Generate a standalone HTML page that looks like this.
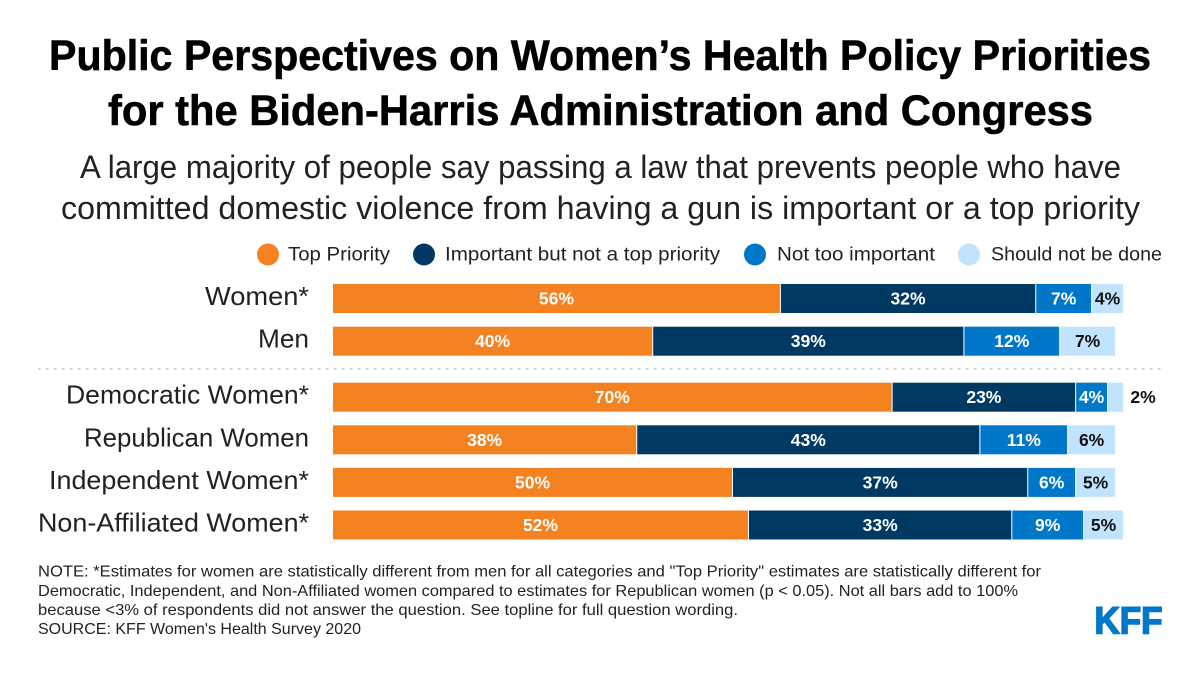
<!DOCTYPE html>
<html lang="en">
<head>
<meta charset="utf-8">
<title>Public Perspectives on Women's Health Policy Priorities</title>
<style>
html,body{margin:0;padding:0;background:#fff;}
svg{display:block;font-family:"Liberation Sans",sans-serif;}
</style>
</head>
<body>
<svg id="chart" width="1200" height="673" viewBox="0 0 1200 673" xmlns="http://www.w3.org/2000/svg">
  <rect width="1200" height="673" fill="#fff"/>
  <g font-weight="700" font-size="43" fill="#000" stroke="#000" stroke-width="0.6">
    <text x="49" y="70" textLength="1102" lengthAdjust="spacingAndGlyphs">Public Perspectives on Women’s Health Policy Priorities</text>
    <text x="108" y="125" textLength="985" lengthAdjust="spacingAndGlyphs">for the Biden-Harris Administration and Congress</text>
  </g>
  <g font-size="32" fill="#222">
    <text x="80" y="178" textLength="1041" lengthAdjust="spacingAndGlyphs">A large majority of people say passing a law that prevents people who have</text>
    <text x="61" y="219" textLength="1079" lengthAdjust="spacingAndGlyphs">committed domestic violence from having a gun is important or a top priority</text>
  </g>
  <g id="legend"></g>
  <g id="labels"></g>
  <g id="bars"></g>
  <line x1="38" y1="369" x2="1163" y2="369" stroke="#c8c8c8" stroke-width="1.5" stroke-dasharray="2.5 5.5"/>
  <g font-size="16" fill="#222">
    <text x="38" y="576.5" textLength="1003" lengthAdjust="spacingAndGlyphs">NOTE: *Estimates for women are statistically different from men for all categories and "Top Priority" estimates are statistically different for</text>
    <text x="38" y="596" textLength="980" lengthAdjust="spacingAndGlyphs">Democratic, Independent, and Non-Affiliated women compared to estimates for Republican women (p &lt; 0.05). Not all bars add to 100%</text>
    <text x="38" y="615" textLength="700" lengthAdjust="spacingAndGlyphs">because &lt;3% of respondents did not answer the question. See topline for full question wording.</text>
    <text x="38" y="634" textLength="323" lengthAdjust="spacingAndGlyphs">SOURCE: KFF Women's Health Survey 2020</text>
  </g>
  <text x="1094.5" y="633.5" font-size="38" font-weight="700" fill="#0077c8" stroke="#0077c8" stroke-width="1.6" textLength="68" lengthAdjust="spacingAndGlyphs">KFF</text>
</svg>
<script>
var categories = ["Women*", "Men", "Democratic Women*", "Republican Women", "Independent Women*", "Non-Affiliated Women*"];
var seriesNames = ["Top Priority", "Important but not a top priority", "Not too important", "Should not be done"];
var topPriority = [56, 40, 70, 38, 50, 52];
var importantNotTop = [32, 39, 23, 43, 37, 33];
var notTooImportant = [7, 12, 4, 11, 6, 9];
var shouldNotBeDone = [4, 7, 2, 6, 5, 5];

var seriesColors = ["#f58220", "#003a63", "#0077c8", "#c2e3fd"];
var labelColors = ["#fff", "#fff", "#fff", "#111"];
var allSeries = [topPriority, importantNotTop, notTooImportant, shouldNotBeDone];
var NS = "http://www.w3.org/2000/svg";
var barsG = document.getElementById("bars");
var labelsG = document.getElementById("labels");
var legendG = document.getElementById("legend");

function xScale(v) { return 333 + v * 7.98; }
function rowY(i) { return i < 2 ? 284 + i * 42.7 : 382.7 + (i - 2) * 42.6; }
function make(tag, attrs, parent, txt) {
  var el = document.createElementNS(NS, tag);
  for (var k in attrs) el.setAttribute(k, attrs[k]);
  if (txt !== undefined) el.textContent = txt;
  parent.appendChild(el);
  return el;
}
function fit(el, width) {
  el.setAttribute("textLength", width);
  el.setAttribute("lengthAdjust", "spacingAndGlyphs");
}

var legendMarkX = [268, 424, 755, 969];
var legendTextX = [288, 445, 777, 991];
var legendTextW = [102, 275, 158, 171];
var categoryTextW = [104, 51, 243, 225, 260, 271];
seriesNames.forEach(function (name, s) {
  var dot = make("circle", { cx: legendMarkX[s], cy: 254.5, r: 11, fill: seriesColors[s] }, legendG);
  
  
  var t = make("text", { x: legendTextX[s], y: 260.5, "font-size": 19, fill: "#222" }, legendG, name);
  
  
  fit(t, legendTextW[s]);
});

categories.forEach(function (cat, i) {
  var y = rowY(i);
  var lab = make("text", { x: 309, y: y + 21, "font-size": 26, fill: "#222", "text-anchor": "end" }, labelsG, cat);
  
  
  fit(lab, categoryTextW[i]);

  var cum = 0;
  allSeries.forEach(function (vals, s) {
    var v = vals[i];
    var x0 = xScale(cum) + (s > 0 ? 1 : 0);
    var x1 = xScale(cum + v);
    var rect = make("rect", {
      x: x0, y: y, width: Math.max(x1 - x0, 0), height: 29,
      fill: seriesColors[s]
    }, barsG);
    
    

    var outside = v <= 2 && s === 3;
    var cx = outside ? x1 + 20 : (x0 + x1) / 2;
    var val = make("text", {
      x: cx, y: y + 20.5, "font-size": 17.5, "font-weight": 700,
      fill: labelColors[s], "text-anchor": "middle"
    }, barsG, v + "%");
    
    
    cum += v;
  });
});
</script>
</body>
</html>
